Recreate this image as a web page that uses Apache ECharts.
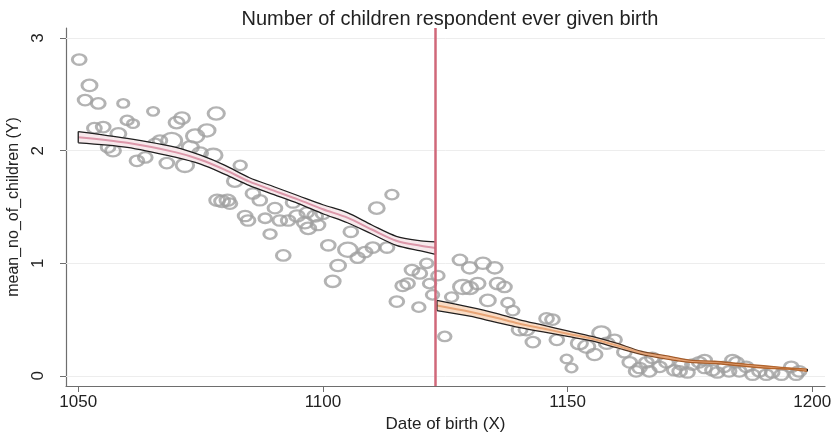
<!DOCTYPE html>
<html>
<head>
<meta charset="utf-8">
<title>Number of children respondent ever given birth</title>
<script src="https://cdn.jsdelivr.net/npm/echarts@6/dist/echarts.min.js"></script>
<style>
  html, body { margin: 0; padding: 0; background: #fff; }
  #chart { width: 838px; height: 433px; }
</style>
</head>
<body>
<div id="chart"></div>
<script>
// scatter: [date of birth, mean no. of children, ring size]
const points = [
  [1050.2, 2.81, 11], [1052.3, 2.58, 12], [1051.4, 2.45, 11], [1054.1, 2.42, 11],
  [1059.2, 2.42, 9], [1065.3, 2.35, 9], [1053.3, 2.20, 11], [1055.1, 2.21, 11],
  [1060.0, 2.27, 10], [1061.2, 2.24, 9], [1058.2, 2.15, 12], [1070.1, 2.25, 12],
  [1071.2, 2.29, 12], [1078.2, 2.33, 13], [1076.3, 2.18, 13], [1073.9, 2.13, 14],
  [1069.1, 2.09, 16], [1066.7, 2.09, 11], [1065.7, 2.06, 11], [1057.1, 2.00, 12],
  [1056.1, 2.03, 11], [1062.0, 1.91, 11], [1063.7, 1.94, 11], [1068.1, 1.89, 11],
  [1071.8, 1.87, 14], [1072.9, 2.03, 13], [1074.9, 1.98, 12], [1077.6, 1.96, 14],
  [1083.1, 1.87, 10], [1082.0, 1.73, 12], [1078.4, 1.56, 12], [1079.4, 1.55, 12],
  [1080.5, 1.56, 12], [1081.0, 1.53, 11], [1085.7, 1.62, 11], [1087.1, 1.56, 11],
  [1090.2, 1.49, 11], [1093.9, 1.54, 11], [1111.0, 1.49, 12], [1114.1, 1.61, 10],
  [1084.1, 1.42, 11], [1084.7, 1.38, 11], [1088.2, 1.40, 10], [1089.2, 1.26, 10],
  [1091.2, 1.38, 11], [1092.9, 1.38, 11], [1094.7, 1.42, 12], [1096.3, 1.36, 12],
  [1097.0, 1.31, 12], [1098.4, 1.42, 12], [1099.0, 1.34, 11], [1100.0, 1.44, 11],
  [1096.7, 1.45, 11], [1091.9, 1.07, 11], [1101.1, 1.16, 11], [1103.1, 0.98, 12],
  [1102.0, 0.84, 12], [1105.1, 1.12, 15], [1105.7, 1.28, 11], [1107.1, 1.05, 11],
  [1108.6, 1.10, 11], [1110.2, 1.14, 11], [1113.1, 1.14, 11], [1115.1, 0.66, 11],
  [1116.3, 0.80, 11], [1117.3, 0.82, 11], [1118.2, 0.94, 11], [1119.8, 0.91, 11],
  [1121.2, 1.00, 10], [1121.8, 0.82, 10], [1122.4, 0.72, 10], [1119.6, 0.61, 10],
  [1123.5, 0.89, 10], [1124.9, 0.35, 10], [1128.0, 1.03, 11], [1130.0, 0.96, 12],
  [1132.7, 1.00, 12], [1135.1, 0.96, 12], [1128.6, 0.79, 15], [1130.0, 0.78, 13],
  [1131.6, 0.82, 12], [1135.7, 0.82, 12], [1137.1, 0.79, 11], [1133.7, 0.67, 12],
  [1137.8, 0.65, 10], [1126.3, 0.70, 10], [1138.8, 0.58, 10], [1140.2, 0.41, 12],
  [1141.6, 0.41, 12], [1142.9, 0.30, 11], [1145.7, 0.51, 11], [1146.9, 0.50, 11],
  [1147.8, 0.32, 11], [1149.8, 0.15, 9], [1150.8, 0.07, 9], [1152.4, 0.29, 13],
  [1153.9, 0.26, 13], [1155.5, 0.19, 12], [1156.9, 0.38, 14], [1158.0, 0.29, 12],
  [1159.6, 0.32, 11], [1161.6, 0.21, 11], [1162.7, 0.12, 11], [1164.0, 0.04, 11],
  [1164.7, 0.07, 11], [1166.1, 0.12, 11], [1166.7, 0.04, 11], [1167.3, 0.16, 11],
  [1168.8, 0.08, 11], [1170.2, 0.12, 11], [1171.8, 0.05, 11], [1172.9, 0.04, 11],
  [1173.3, 0.10, 11], [1174.5, 0.03, 11], [1175.5, 0.10, 11], [1176.9, 0.12, 11],
  [1178.0, 0.14, 11], [1178.0, 0.07, 11], [1179.6, 0.05, 11], [1180.6, 0.03, 11],
  [1182.0, 0.08, 11], [1183.0, 0.04, 11], [1183.7, 0.14, 11], [1184.5, 0.12, 11],
  [1185.1, 0.04, 11], [1186.5, 0.08, 11], [1187.8, 0.01, 11], [1189.2, 0.04, 11],
  [1190.6, 0.01, 11], [1191.8, 0.03, 11], [1193.7, 0.01, 11], [1195.7, 0.08, 11],
  [1196.7, 0.01, 11], [1197.3, 0.04, 11]
]

// fitted confidence bands, left and right of the cutoff
const leftX = [1050, 1060, 1070, 1075, 1080, 1085, 1090, 1095, 1100, 1105, 1110, 1115, 1120, 1123]
const leftLower = [2.07, 2.03, 1.94, 1.88, 1.79, 1.69, 1.61, 1.53, 1.44, 1.36, 1.26, 1.16, 1.11, 1.08]
const leftUpper = [2.17, 2.11, 2.03, 1.96, 1.87, 1.76, 1.68, 1.60, 1.52, 1.45, 1.34, 1.24, 1.20, 1.19]

const rightX = [1123.3, 1130, 1135, 1140, 1145, 1150, 1155, 1160, 1165, 1170, 1175, 1180, 1185, 1190, 1195, 1199]
const rightLower = [0.58, 0.53, 0.48, 0.43, 0.39, 0.35, 0.31, 0.25, 0.19, 0.15, 0.12, 0.11, 0.09, 0.07, 0.06, 0.04]
const rightUpper = [0.67, 0.61, 0.56, 0.50, 0.45, 0.40, 0.35, 0.29, 0.22, 0.18, 0.14, 0.13, 0.11, 0.09, 0.07, 0.06]

const cutoff = 1123
const xTicks = [1050, 1100, 1150, 1200]
const yTicks = [0, 1, 2, 3]

const FONT = "'Liberation Sans', Arial, Helvetica, sans-serif"
const BLACK_EDGE = { color: '#1e1e1e', width: 1.3 }
// right band edges turn brown where the interval collapses
const BROWN_EDGE = {
  width: 1.3,
  color: new echarts.graphic.LinearGradient(0, 0, 1, 0, [
    { offset: 0, color: '#1e1e1e' },
    { offset: 0.45, color: '#2a2220' },
    { offset: 0.62, color: '#a35a28' },
    { offset: 1, color: '#b96a30' }
  ])
}

function pairs(xs, ys) {
  return xs.map((x, i) => [x, ys[i]])
}

function bandSeries(id, xs, lower, upper, fill, midColor, edge) {
  return [
    {
      // filled area between the bounds
      name: id + '-fill',
      type: 'custom',
      z: 3,
      clip: true,
      data: xs.map((x, i) => [x, lower[i], upper[i]]),
      encode: { x: 0, y: [1, 2] },
      renderItem: (params, api) => {
        if (params.dataIndex !== 0) return null
        const top = xs.map((x, i) => api.coord([x, upper[i]]))
        const bottom = xs.map((x, i) => api.coord([x, lower[i]])).reverse()
        return {
          type: 'polygon',
          shape: { points: top.concat(bottom) },
          style: { fill: fill }
        }
      }
    },
    {
      name: id + '-mid', type: 'line', smooth: 0.3, symbol: 'none', z: 4,
      lineStyle: { color: midColor, width: 2 },
      data: xs.map((x, i) => [x, (upper[i] + lower[i]) / 2])
    },
    { name: id + '-lo', type: 'line', smooth: 0.3, symbol: 'none', z: 4, lineStyle: edge, data: pairs(xs, lower) },
    { name: id + '-hi', type: 'line', smooth: 0.3, symbol: 'none', z: 4, lineStyle: edge, data: pairs(xs, upper) },
    {
      // end caps of the band
      name: id + '-caps', type: 'line', symbol: 'none', z: 4, lineStyle: BLACK_EDGE,
      data: [
        [xs[0], lower[0]], [xs[0], upper[0]], '-',
        [xs[xs.length - 1], lower[lower.length - 1]], [xs[xs.length - 1], upper[upper.length - 1]]
      ]
    }
  ]
}

const chart = echarts.init(document.getElementById('chart'), null, { renderer: 'canvas' })

chart.setOption({
  animation: false,
  backgroundColor: '#ffffff',
  textStyle: { fontFamily: FONT },
  title: {
    text: 'Number of children respondent ever given birth',
    left: 445,
    top: 4,
    textAlign: 'center',
    textStyle: { fontFamily: FONT, fontSize: 20, fontWeight: 'normal', color: '#222' }
  },
  grid: { left: 66, right: 13, top: 28, bottom: 47, containLabel: false, outerBoundsMode: 'none' },
  xAxis: {
    type: 'value',
    min: 1047.5,
    max: 1202.6,
    name: 'Date of birth (X)',
    nameLocation: 'middle',
    nameGap: 30,
    nameTextStyle: { fontFamily: FONT, fontSize: 17, color: '#222' },
    axisLine: { show: true, onZero: false, lineStyle: { color: '#6e6e6e', width: 1.2 } },
    axisTick: { show: true, length: 6, customValues: xTicks, lineStyle: { color: '#6e6e6e' } },
    axisLabel: {
      customValues: xTicks, margin: 8, fontFamily: FONT, fontSize: 17, color: '#222',
      formatter: (v) => String(v)
    },
    splitLine: { show: false }
  },
  yAxis: {
    type: 'value',
    min: -0.09,
    max: 3.09,
    name: 'mean_no_of_children (Y)',
    nameLocation: 'middle',
    nameGap: 44,
    nameTextStyle: { fontFamily: FONT, fontSize: 16, color: '#222' },
    axisLine: { show: true, onZero: false, lineStyle: { color: '#6e6e6e', width: 1.2 } },
    axisTick: { show: true, length: 6, customValues: yTicks, lineStyle: { color: '#6e6e6e' } },
    axisLabel: {
      customValues: yTicks, rotate: 90, margin: 19, fontFamily: FONT, fontSize: 17, color: '#222',
      formatter: (v) => String(v)
    },
    splitLine: { show: false }
  },
  series: [
    {
      name: 'observations',
      type: 'scatter',
      z: 2,
      symbol: 'circle',
      symbolSize: (v) => [v[2] * 1.25, v[2] * 0.95],
      itemStyle: { color: 'rgba(0,0,0,0)', borderColor: '#a0a0a0', borderWidth: 2.6 },
      data: points,
      markLine: {
        silent: true,
        symbol: 'none',
        z: 1,
        label: { show: false },
        lineStyle: { color: '#ededed', width: 1, type: 'solid' },
        data: yTicks.map((v) => ({ yAxis: v }))
      }
    },
    ...bandSeries('left', leftX, leftLower, leftUpper, '#f7e9ec', '#dc98aa', BLACK_EDGE),
    ...bandSeries('right', rightX, rightLower, rightUpper, '#f9dcc5', '#e8a577', BROWN_EDGE),
    {
      name: 'cutoff',
      type: 'line',
      data: [],
      z: 5,
      markLine: {
        silent: true,
        symbol: 'none',
        z: 5,
        label: { show: false },
        lineStyle: { color: '#d0687a', width: 2.5, type: 'solid' },
        data: [{ xAxis: cutoff }]
      }
    }
  ]
})

window.addEventListener('resize', () => chart.resize())
</script>
</body>
</html>
